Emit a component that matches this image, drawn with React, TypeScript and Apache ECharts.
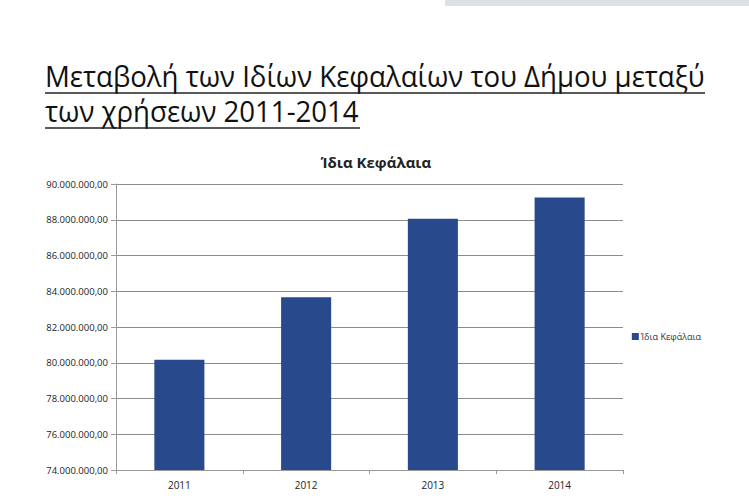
import React, { useEffect, useRef } from "react";
import * as echarts from "echarts";

const categories = ["2011", "2012", "2013", "2014"];
const seriesName = "Ίδια Κεφάλαια";
const values = [80170000, 83660000, 88050000, 89250000];
const titleLines = ["Μεταβολή των Ιδίων Κεφαλαίων του Δήμου μεταξύ", "των χρήσεων 2011-2014"];
const chartTitle = "Ίδια Κεφάλαια";

function fmt(v: number): string {
  const s = Math.round(v).toString().replace(/\B(?=(\d{3})+(?!\d))/g, ".");
  return s + ",00";
}

function measure(text: string, font: string): number {
  const c = document.createElement("canvas");
  const ctx = c.getContext("2d");
  if (!ctx) return 0;
  ctx.font = font;
  return ctx.measureText(text).width;
}

export default function App() {
  const ref = useRef<HTMLDivElement>(null);
  useEffect(() => {
    if (!ref.current) return;
    const chart = echarts.init(ref.current, null, { renderer: "svg" });
    const titleFont = "29px 'Open Sans'";
    const w = measure(titleLines[0], titleFont);
    const sx = w > 0 ? 660 / w : 0.8;
    chart.setOption({
      animation: false,
      backgroundColor: "#ffffff",
      title: {
        text: chartTitle,
        left: 371,
        textAlign: "center",
        top: 149,
        textStyle: { fontFamily: "Open Sans", fontWeight: "bold", fontSize: 15, color: "#222" },
      },
      legend: {
        right: 43,
        top: 327,
        itemWidth: 7,
        itemHeight: 7,
        itemGap: 4,
        textStyle: { fontFamily: "Open Sans", fontSize: 9, color: "#333", padding: [0, 0, 0, -3] },
        data: [{ name: seriesName, icon: "rect" }],
      },
      grid: { left: 116, right: 126, top: 184, bottom: 31 },
      xAxis: {
        type: "category",
        data: categories,
        axisLine: { lineStyle: { color: "#999" } },
        axisTick: { show: true, length: 4, lineStyle: { color: "#999" } },
        axisLabel: { fontFamily: "Open Sans", fontSize: 10, color: "#222", margin: 10 },
      },
      yAxis: {
        type: "value",
        min: 74000000,
        max: 90000000,
        interval: 2000000,
        axisLine: { show: true, lineStyle: { color: "#999" } },
        axisTick: { show: true, length: 5, lineStyle: { color: "#999" } },
        splitLine: { lineStyle: { color: "#8c8c8c" } },
        axisLabel: { fontFamily: "Open Sans", fontSize: 9.5, color: "#222", margin: 8, formatter: (v: number) => fmt(v) },
      },
      series: [
        {
          name: seriesName,
          type: "bar",
          data: values,
          barWidth: "39.5%",
          itemStyle: { color: "#284a8c" },
        },
      ],
      graphic: [
        { type: "rect", shape: { x: 445, y: 0, width: 304, height: 6 }, style: { fill: "#dcdfe4" } },
        {
          type: "text",
          x: 45,
          y: 61,
          scaleX: sx,
          style: { text: titleLines[0], fontFamily: "Open Sans", fontSize: 29, fill: "#111" },
        },
        {
          type: "text",
          x: 45,
          y: 96,
          scaleX: sx,
          style: { text: titleLines[1], fontFamily: "Open Sans", fontSize: 29, fill: "#111" },
        },
        { type: "line", shape: { x1: 45, y1: 93, x2: 705, y2: 93 }, style: { stroke: "#222", lineWidth: 1.5 } },
        { type: "line", shape: { x1: 45, y1: 128, x2: 360, y2: 128 }, style: { stroke: "#222", lineWidth: 1.5 } },
      ],
    });
    return () => chart.dispose();
  }, []);
  return <div ref={ref} style={{ width: 749, height: 501, position: "absolute", left: 0, top: 0 }} />;
}
